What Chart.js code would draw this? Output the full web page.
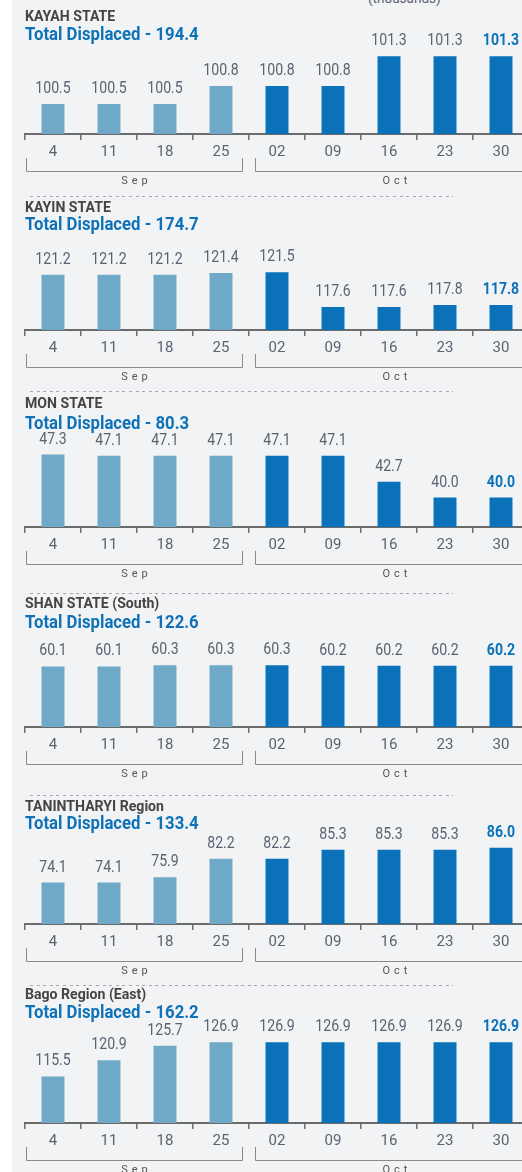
<!DOCTYPE html>
<html>
<head>
<meta charset="utf-8">
<script src="https://cdn.jsdelivr.net/npm/chart.js@4.4.0/dist/chart.umd.min.js"></script>
<style>
  html, body { margin: 0; padding: 0; width: 522px; height: 1172px; overflow: hidden; background: #fff; font-family: Roboto, sans-serif; }
  #bg { position: absolute; left: 12px; top: 0; width: 510px; height: 1172px; background: #f2f3f5; }
  .panel { position: absolute; left: 0; width: 540px; height: 196px; }
  .panel canvas { position: absolute; left: 0; top: 0; }
  .region, .total { position: absolute; left: 25px; font-weight: 700; white-space: nowrap; line-height: 1; transform-origin: 0 50%; }
  .region { font-size: 15.5px; color: #454545; transform: translateY(-50%) scaleX(.91); }
  .total { font-size: 18px; color: #0f72b8; transform: translateY(-50%) scaleX(.93); }
  .dash { position: absolute; left: 30px; width: 423px; height: 1px;
          background: repeating-linear-gradient(to right, #a4a7ad 0 3px, transparent 3px 6.6px); }
  #unit { position: absolute; left: 368px; top: -11px; font-size: 15px; color: #5a6372; transform: scaleX(.9); transform-origin: 0 0; }
</style>
</head>
<body>
<div id="bg"></div>
<div id="unit">(thousands)</div>
<div id="root"></div>
<script>
// categories
const days = ['4', '11', '18', '25', '02', '09', '16', '23', '30'];
const months = ['Sep', 'Sep', 'Sep', 'Sep', 'Oct', 'Oct', 'Oct', 'Oct', 'Oct'];

// one panel per region
const regions = ['KAYAH STATE', 'KAYIN STATE', 'MON STATE', 'SHAN STATE (South)', 'TANINTHARYI Region', 'Bago Region (East)'];
const totals = [194.4, 174.7, 80.3, 122.6, 133.4, 162.2];

// weekly displaced (thousands)
const kayah = [100.5, 100.5, 100.5, 100.8, 100.8, 100.8, 101.3, 101.3, 101.3];
const kayin = [121.2, 121.2, 121.2, 121.4, 121.5, 117.6, 117.6, 117.8, 117.8];
const mon = [47.3, 47.1, 47.1, 47.1, 47.1, 47.1, 42.7, 40.0, 40.0];
const shan = [60.1, 60.1, 60.3, 60.3, 60.3, 60.2, 60.2, 60.2, 60.2];
const tanintharyi = [74.1, 74.1, 75.9, 82.2, 82.2, 85.3, 85.3, 85.3, 86.0];
const bago = [115.5, 120.9, 125.7, 126.9, 126.9, 126.9, 126.9, 126.9, 126.9];
const series = [kayah, kayin, mon, shan, tanintharyi, bago];

// value axis ranges (axes are cut, not from zero)
const axisMin = [100, 115, 35, 50, 60, 100];
const axisMax = [101.57, 125.57, 50.96, 65.67, 92, 131.3];

// page layout
const axisY = [134, 330, 527, 727, 924, 1123];
const regionY = [-117, -122, -123, -123, -117, -128];
const totalY = [-100, -106, -104, -105, -101, -111];
const dashY = [196, 391, 593, 795, 985];

const sepColor = '#70a9c7';
const octColor = '#0b72b9';
const grey = '#5a6372';
const axisColor = '#6b6b6b';

const valueLabels = {
    id: 'valueLabels',
    afterDatasetsDraw(chart) {
        const ctx = chart.ctx;
        const vals = chart.data.datasets[0].data;
        const n = vals.length;
        chart.getDatasetMeta(0).data.forEach((bar, i) => {
            const last = i === n - 1;
            ctx.save();
            ctx.font = (last ? 'bold ' : '') + '16px Roboto';
            ctx.fillStyle = last ? octColor : grey;
            ctx.textAlign = 'center';
            ctx.textBaseline = 'middle';
            ctx.translate(bar.x, bar.y - 15);
            ctx.scale(0.88, 1);
            ctx.fillText(vals[i].toFixed(1), 0, 0);
            ctx.restore();
        });
    }
};

const monthBrackets = {
    id: 'monthBrackets',
    afterDraw(chart) {
        const ctx = chart.ctx;
        const x = chart.scales.x;
        const half = (x.getPixelForValue(1) - x.getPixelForValue(0)) / 2;
        const base = chart.chartArea.bottom;
        // group consecutive months
        const groups = [];
        months.forEach((m, i) => {
            const g = groups[groups.length - 1];
            if (g && g.name === m) g.end = i;
            else groups.push({ name: m, start: i, end: i });
        });
        groups.forEach((g, gi) => {
            const left = x.getPixelForValue(g.start) - half;
            const right = x.getPixelForValue(g.end) + half;
            const x0 = gi === 0 ? left + 1 : left + 6;
            const x1 = gi === groups.length - 1 ? right + 6 : right - 6;
            ctx.save();
            ctx.strokeStyle = '#8a8a8a';
            ctx.lineWidth = 1;
            ctx.beginPath();
            ctx.moveTo(x0 + 0.5, base + 24);
            ctx.lineTo(x0 + 0.5, base + 37.5);
            ctx.lineTo(x1 - 0.5, base + 37.5);
            ctx.lineTo(x1 - 0.5, base + 24);
            ctx.stroke();
            ctx.fillStyle = '#555';
            ctx.font = '11px Roboto';
            ctx.letterSpacing = '4px';
            ctx.textAlign = 'center';
            ctx.textBaseline = 'middle';
            ctx.fillText(g.name, (x0 + x1) / 2 + 2, base + 47);
            ctx.restore();
        });
    }
};

function makePanel(p) {
    const root = document.getElementById('root');
    const div = document.createElement('div');
    div.className = 'panel';
    div.style.top = (axisY[p] - 134) + 'px';
    const canvas = document.createElement('canvas');
    canvas.width = 540;
    canvas.height = 196;
    div.appendChild(canvas);
    const r = document.createElement('div');
    r.className = 'region';
    r.style.top = (134 + regionY[p]) + 'px';
    r.textContent = regions[p];
    div.appendChild(r);
    const t = document.createElement('div');
    t.className = 'total';
    t.style.top = (134 + totalY[p]) + 'px';
    t.textContent = 'Total Displaced - ' + totals[p].toFixed(1);
    div.appendChild(t);
    root.appendChild(div);

    new Chart(canvas, {
        type: 'bar',
        data: {
            labels: days,
            datasets: [{
                data: series[p],
                backgroundColor: months.map(m => m === 'Sep' ? sepColor : octColor),
                barPercentage: 0.41,
                categoryPercentage: 1
            }]
        },
        options: {
            responsive: false,
            animation: false,
            devicePixelRatio: 1,
            layout: { padding: { top: 40, left: 25, right: 11, bottom: 32 } },
            plugins: { legend: { display: false }, tooltip: { enabled: false } },
            scales: {
                x: {
                    offset: true,
                    grid: { display: true, offset: true, drawOnChartArea: false, drawTicks: true, tickLength: 6, color: axisColor, lineWidth: 1.5 },
                    border: { display: true, color: axisColor, width: 2 },
                    ticks: { color: grey, font: { family: 'Roboto', size: 15 }, padding: 3, maxRotation: 0, autoSkip: false }
                },
                y: {
                    display: false,
                    min: axisMin[p],
                    max: axisMax[p]
                }
            }
        },
        plugins: [valueLabels, monthBrackets]
    });
}

document.addEventListener('DOMContentLoaded', () => {
    for (let p = 0; p < regions.length; p++) makePanel(p);
    dashY.forEach(y => {
        const d = document.createElement('div');
        d.className = 'dash';
        d.style.top = y + 'px';
        document.body.appendChild(d);
    });
});
</script>
</body>
</html>
